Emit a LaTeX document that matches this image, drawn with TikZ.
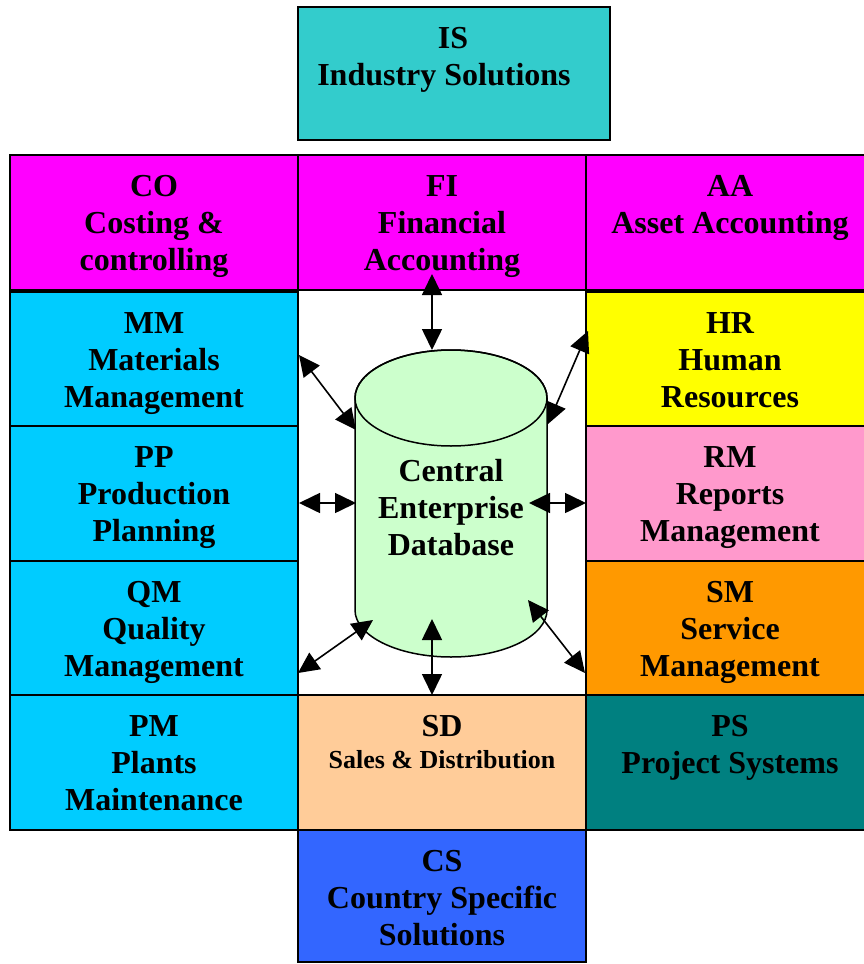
\documentclass[tikz,border=0pt]{standalone}
\usepackage{fontspec}
\setmainfont{Liberation Serif}
\usetikzlibrary{arrows.meta}
\definecolor{cIS}{HTML}{33CCCC}
\definecolor{cMag}{HTML}{FF00FF}
\definecolor{cCyan}{HTML}{00CCFF}
\definecolor{cYel}{HTML}{FFFF00}
\definecolor{cPink}{HTML}{FF99CC}
\definecolor{cOrg}{HTML}{FF9900}
\definecolor{cTeal}{HTML}{008080}
\definecolor{cPeach}{HTML}{FFCC99}
\definecolor{cBlue}{HTML}{3366FF}
\definecolor{cDB}{HTML}{CCFFCC}
\begin{document}
\begin{tikzpicture}[x=1pt,y=1pt,
  box/.style={draw=black, line width=1.5pt, inner sep=0pt, minimum width=288pt},
  txt/.style={anchor=north, inner sep=0pt, align=center, font=\bfseries\fontsize{32}{37}\selectfont},
  arr/.style={{Triangle[length=21pt,width=20pt]}-{Triangle[length=21pt,width=20pt]}, line width=1.6pt}]
\useasboundingbox (0,0) rectangle (864,-964);
\clip (0,0) rectangle (864,-964);
\fill[white] (0,0) rectangle (864,-964);

% boxes
\node[box, fill=cIS, minimum width=312pt, minimum height=133pt] (is) at (454,-73.5) {};
\node[box, fill=cMag, minimum height=135pt] (co) at (154,-222.5) {};
\node[box, fill=cMag, minimum height=135pt] (fi) at (442,-222.5) {};
\node[box, fill=cMag, minimum height=135pt] (aa) at (730,-222.5) {};
\node[box, fill=cCyan, minimum height=134pt] (mm) at (154,-359) {};
\node[box, fill=cYel, minimum height=134pt] (hr) at (730,-359) {};
\node[box, fill=cCyan, minimum height=135pt] (pp) at (154,-493.5) {};
\node[box, fill=cPink, minimum height=135pt] (rm) at (730,-493.5) {};
\node[box, fill=cCyan, minimum height=134pt] (qm) at (154,-628) {};
\node[box, fill=cOrg, minimum height=134pt] (sm) at (730,-628) {};
\node[box, fill=cCyan, minimum height=135pt] (pm) at (154,-762.5) {};
\node[box, fill=cPeach, minimum height=135pt] (sd) at (442,-762.5) {};
\node[box, fill=cTeal, minimum height=135pt] (ps) at (730,-762.5) {};
\node[box, fill=cBlue, minimum height=132pt] (cs) at (442,-896) {};

% texts
\node[txt] (istx) at ([xshift=-1pt,yshift=-16pt]is.north) {\strut IS\\Industry Solutions\kern18pt\hbox{}};
\node[txt] (cotx) at ([yshift=-16pt]co.north) {\strut CO\\Costing \&\\controlling};
\node[txt] (fitx) at ([yshift=-16pt]fi.north) {\strut FI\\Financial\\Accounting};
\node[txt] (aatx) at ([yshift=-16pt]aa.north) {\strut AA\\Asset Accounting};
\node[txt] (mmtx) at ([yshift=-16pt]mm.north) {\strut MM\\Materials\\Management};
\node[txt] (hrtx) at ([yshift=-16pt]hr.north) {\strut HR\\Human\\Resources};
\node[txt] (pptx) at ([yshift=-16pt]pp.north) {\strut PP\\Production\\Planning};
\node[txt] (rmtx) at ([yshift=-16pt]rm.north) {\strut RM\\Reports\\Management};
\node[txt] (qmtx) at ([yshift=-16pt]qm.north) {\strut QM\\Quality\\Management};
\node[txt] (smtx) at ([yshift=-16pt]sm.north) {\strut SM\\Service\\Management};
\node[txt] (pmtx) at ([yshift=-16pt]pm.north) {\strut PM\\Plants\\Maintenance};
\node[txt] (sdtx) at ([yshift=-16pt]sd.north) {\strut SD};
\node[anchor=base, inner sep=0pt, font=\bfseries\fontsize{26}{30}\selectfont] (sdtx2) at (442,-768) {Sales \& Distribution};
\node[txt] (pstx) at ([yshift=-16pt]ps.north) {\strut PS\\Project Systems};
\node[txt] (cstx) at ([yshift=-16pt]cs.north) {\strut CS\\Country Specific\\Solutions};

% cylinder
\filldraw[fill=cDB, draw=black, line width=1.5pt]
  (355,-398) -- (355,-610) arc (180:360:96pt and 47pt) -- (547,-398) arc (0:180:96pt and 48pt) -- cycle;
\draw[line width=1.5pt] (451,-398) ellipse (96pt and 48pt);
\node[txt] (db) at (451,-455) {\strut Central\\Enterprise\\Database};

% arrow end points
\coordinate (fiA) at (432,-274);
\coordinate (fiB) at (432,-350);
\coordinate (mmA) at (299,-355);
\coordinate (mmB) at (356,-430);
\coordinate (hrA) at (588,-331);
\coordinate (hrB) at (548,-424);
\coordinate (ppA) at (299,-503);
\coordinate (ppB) at (356,-503);
\coordinate (rmA) at (529,-503);
\coordinate (rmB) at (586,-503);
\coordinate (qmA) at (298,-673);
\coordinate (qmB) at (373,-620);
\coordinate (sdA) at (432,-619);
\coordinate (sdB) at (432,-695);
\coordinate (smA) at (528,-600);
\coordinate (smB) at (585,-673);

\draw[arr] (fiA) -- (fiB);
\draw[arr] (mmA) -- (mmB);
\draw[arr] (hrA) -- (hrB);
\draw[arr] (ppA) -- (ppB);
\draw[arr] (rmA) -- (rmB);
\draw[arr] (qmA) -- (qmB);
\draw[arr] (sdA) -- (sdB);
\draw[arr] (smA) -- (smB);
\end{tikzpicture}
\end{document}
